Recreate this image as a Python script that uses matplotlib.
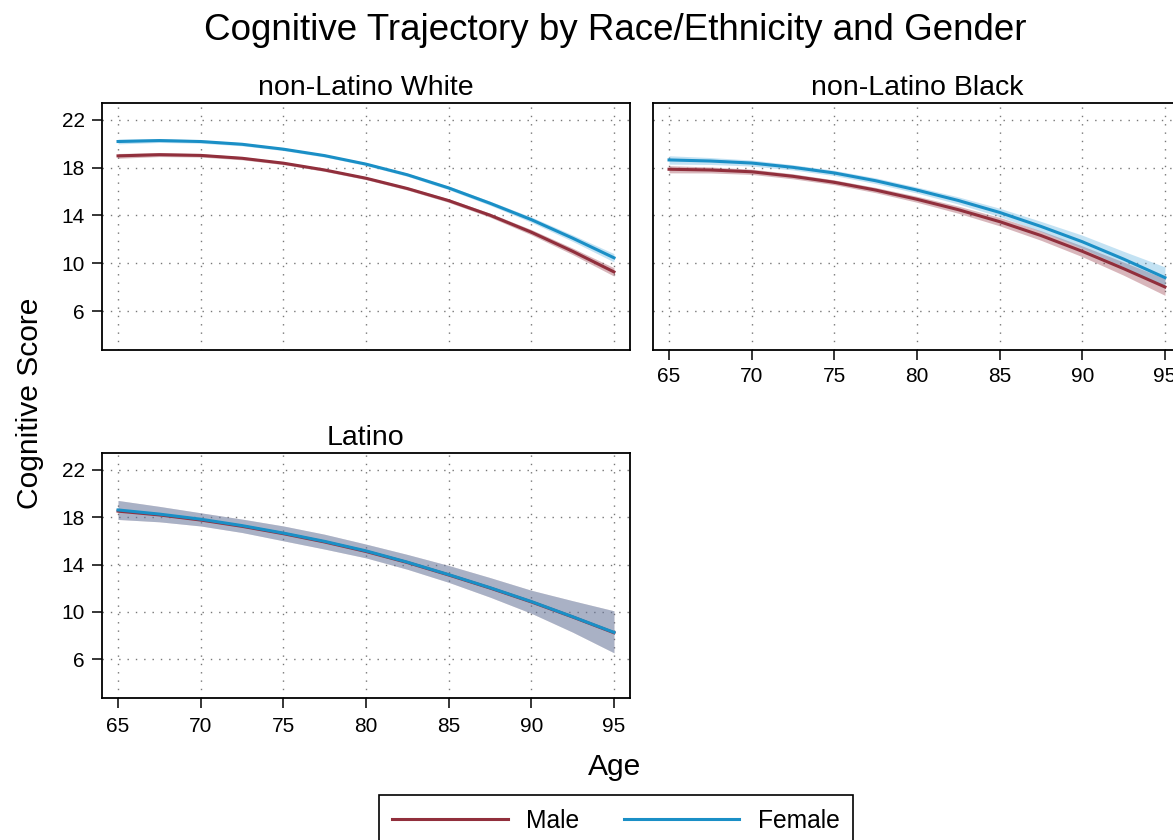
import numpy as np
import matplotlib
matplotlib.use("Agg")
import matplotlib.pyplot as plt

plt.rcParams['font.family'] = ['Liberation Sans', 'DejaVu Sans']

# ages, every 2.5 years
age = [65, 67.5, 70, 72.5, 75, 77.5, 80, 82.5, 85, 87.5, 90, 92.5, 95]

groups = ["non-Latino White", "non-Latino Black", "Latino"]

# non-Latino White
white_male = [18.98, 19.08, 19.02, 18.78, 18.37, 17.80, 17.11, 16.25, 15.24, 14.02, 12.60, 11.00, 9.28]
white_male_lo = [18.78, 18.92, 18.88, 18.65, 18.25, 17.68, 16.99, 16.12, 15.09, 13.85, 12.38, 10.73, 8.93]
white_male_hi = [19.18, 19.24, 19.16, 18.91, 18.49, 17.92, 17.23, 16.38, 15.39, 14.19, 12.82, 11.27, 9.63]
white_female = [20.18, 20.26, 20.18, 19.95, 19.54, 19.00, 18.29, 17.40, 16.30, 15.02, 13.65, 12.10, 10.46]
white_female_lo = [19.98, 20.10, 20.04, 19.82, 19.42, 18.88, 18.17, 17.27, 16.15, 14.85, 13.43, 11.83, 10.11]
white_female_hi = [20.38, 20.42, 20.32, 20.08, 19.66, 19.12, 18.41, 17.53, 16.45, 15.19, 13.87, 12.37, 10.81]

# non-Latino Black
black_male = [17.86, 17.80, 17.65, 17.27, 16.77, 16.12, 15.35, 14.48, 13.48, 12.32, 11.00, 9.55, 8.02]
black_male_lo = [17.56, 17.55, 17.43, 17.06, 16.57, 15.90, 15.10, 14.18, 13.13, 11.92, 10.55, 9.00, 7.32]
black_male_hi = [18.16, 18.05, 17.87, 17.48, 16.97, 16.34, 15.60, 14.78, 13.83, 12.72, 11.45, 10.10, 8.72]
black_female = [18.64, 18.55, 18.38, 18.02, 17.55, 16.90, 16.12, 15.25, 14.25, 13.08, 11.80, 10.35, 8.80]
black_female_lo = [18.29, 18.26, 18.13, 17.80, 17.33, 16.66, 15.87, 14.95, 13.90, 12.66, 11.25, 9.70, 7.90]
black_female_hi = [18.99, 18.84, 18.63, 18.24, 17.77, 17.14, 16.37, 15.55, 14.60, 13.50, 12.35, 11.00, 9.70]

# Latino
latino_male = [18.50, 18.18, 17.75, 17.22, 16.60, 15.90, 15.10, 14.17, 13.12, 12.02, 10.85, 9.58, 8.25]
latino_female = [18.60, 18.25, 17.82, 17.28, 16.65, 15.95, 15.15, 14.20, 13.15, 12.05, 10.88, 9.60, 8.28]
latino_lo = [17.80, 17.60, 17.25, 16.70, 16.00, 15.30, 14.56, 13.60, 12.50, 11.25, 9.89, 8.30, 6.56]
latino_hi = [19.40, 18.90, 18.36, 17.83, 17.25, 16.55, 15.72, 14.85, 13.92, 12.90, 11.83, 10.95, 10.10]

male = [white_male, black_male, latino_male]
male_lo = [white_male_lo, black_male_lo, latino_lo]
male_hi = [white_male_hi, black_male_hi, latino_hi]
female = [white_female, black_female, latino_female]
female_lo = [white_female_lo, black_female_lo, latino_lo]
female_hi = [white_female_hi, black_female_hi, latino_hi]

yticks = [6, 10, 14, 18, 22]
xticks = [65, 70, 75, 80, 85, 90, 95]

c_male = '#912f3c'
c_female = '#1a8fc6'

W, H = 1173, 840
fig = plt.figure(figsize=(W / 100, H / 100), dpi=100)

# panel boxes in pixels: left, top, right, bottom
boxes = [(102, 103, 630, 350), (653, 103, 1181, 350), (102, 453, 630, 698)]

axes = []
for i, (l, t, r, b) in enumerate(boxes):
    ax = fig.add_axes([l / W, 1 - b / H, (r - l) / W, (b - t) / H])
    axes.append(ax)
    ax.fill_between(age, male_lo[i], male_hi[i], color=c_male, alpha=0.35, lw=0)
    ax.fill_between(age, female_lo[i], female_hi[i], color='#4aa8dc', alpha=0.33, lw=0)
    lm, = ax.plot(age, male[i], color=c_male, lw=2.2, label='Male', solid_joinstyle='round')
    lf, = ax.plot(age, female[i], color=c_female, lw=2.2, label='Female', solid_joinstyle='round')
    ax.set_xlim(64.03, 95.97)
    ax.set_ylim(2.75, 23.4)
    ax.set_xticks(xticks)
    ax.set_yticks(yticks)
    ax.grid(True, color='#777777', lw=1.0, linestyle=(0, (1, 5)))
    ax.set_axisbelow(True)
    for s in ax.spines.values():
        s.set_linewidth(1.3)
    ax.tick_params(direction='out', length=7.5, width=1.1, labelsize=15, pad=5)
    ax.set_title(groups[i], fontsize=20.5, pad=5.8)
    if i == 0:
        ax.tick_params(axis='x', bottom=False, labelbottom=False)
    if i == 1:
        ax.tick_params(axis='y', left=False, labelleft=False)
    if i == 2:
        ax.tick_params(axis='x', pad=6)

fig.text(615 / W, 1 - 31 / H, "Cognitive Trajectory by Race/Ethnicity and Gender",
         ha='center', va='center', fontsize=26.5)
fig.text(30 / W, 1 - 403 / H, "Cognitive Score", rotation=90,
         ha='center', va='center', fontsize=21.6)
fig.text(615 / W, 1 - 767 / H, "Age", ha='center', va='center', fontsize=21.6)

leg = fig.legend(handles=[lm, lf], loc='upper center', bbox_to_anchor=(616 / W, 1 - 795 / H),
                 ncol=2, fontsize=17.7, frameon=True, fancybox=False,
                 handlelength=4.7, handletextpad=0.75, columnspacing=1.8,
                 borderpad=0.55, borderaxespad=0, framealpha=1)
leg.get_frame().set_edgecolor('black')
leg.get_frame().set_linewidth(1.2)

fig.savefig("out.png", dpi=100)
